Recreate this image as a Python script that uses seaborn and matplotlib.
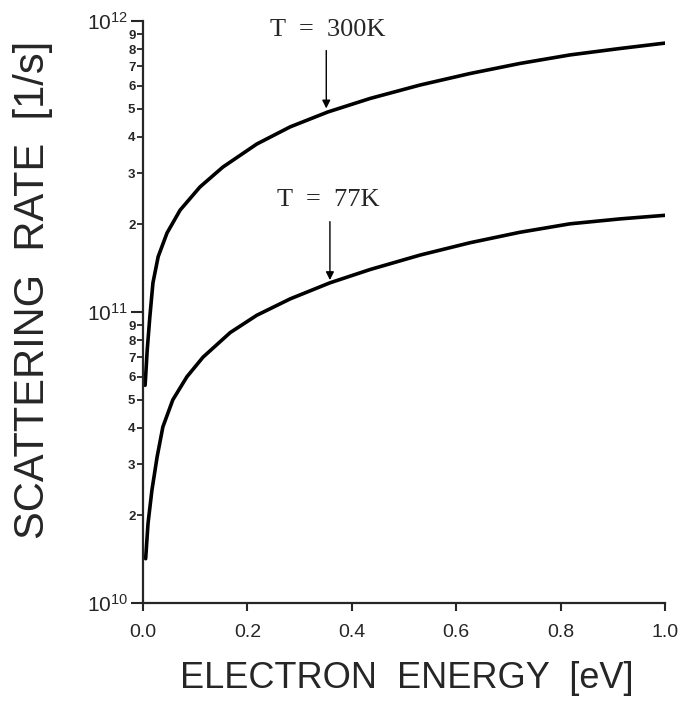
import numpy as np
import pandas as pd
import matplotlib
matplotlib.use("Agg")
import matplotlib.pyplot as plt
import matplotlib.ticker as mticker
import seaborn as sns

# curves: electron energy [eV] vs scattering rate [1/s]
energy_300k = [0.004, 0.008, 0.013, 0.019, 0.029, 0.046, 0.071, 0.109, 0.153, 0.218,
               0.282, 0.354, 0.435, 0.531, 0.626, 0.722, 0.818, 0.914, 1.0]
rate_300k = [5.6e10, 7.4e10, 9.6e10, 1.26e11, 1.55e11, 1.87e11, 2.24e11, 2.69e11, 3.15e11, 3.78e11,
             4.33e11, 4.87e11, 5.42e11, 6.03e11, 6.6e11, 7.15e11, 7.65e11, 8.05e11, 8.4e11]

energy_77k = [0.005, 0.0096, 0.017, 0.027, 0.038, 0.057, 0.084, 0.115, 0.167, 0.218,
              0.282, 0.358, 0.435, 0.531, 0.626, 0.722, 0.818, 0.914, 1.0]
rate_77k = [1.42e10, 1.88e10, 2.44e10, 3.18e10, 4.03e10, 4.99e10, 5.99e10, 7.0e10, 8.5e10, 9.75e10,
            1.11e11, 1.26e11, 1.40e11, 1.57e11, 1.73e11, 1.88e11, 2.01e11, 2.09e11, 2.15e11]

x_ticks = [0.0, 0.2, 0.4, 0.6, 0.8, 1.0]
x_ticklabels = ["0.0", "0.2", "0.4", "0.6", "0.8", "1.0"]

df = pd.concat([
    pd.DataFrame({"energy": energy_300k, "rate": rate_300k, "T": "300K"}),
    pd.DataFrame({"energy": energy_77k, "rate": rate_77k, "T": "77K"}),
])

sns.set_style("ticks")
plt.rcParams['font.family'] = ['Liberation Sans', 'DejaVu Sans']
plt.rcParams['mathtext.default'] = 'regular'

fig = plt.figure(figsize=(6.86, 7.02), dpi=100)
ax = fig.add_axes([0.2085, 0.141, 0.761, 0.829])

sns.lineplot(data=df, x="energy", y="rate", units="T", estimator=None,
             color="black", lw=2.6, ax=ax, legend=False)
for ln in ax.get_lines():
    ln.set_solid_joinstyle("round")
    ln.set_solid_capstyle("round")

ax.set_yscale("log")
ax.set_xlim(0, 1.0)
ax.set_ylim(1e10, 1e12)

ax.set_xticks(x_ticks)
ax.set_xticklabels(x_ticklabels, fontsize=14)

ax.yaxis.set_major_locator(mticker.LogLocator(base=10))
ax.yaxis.set_minor_locator(mticker.LogLocator(base=10, subs=range(2, 10)))
ax.yaxis.set_minor_formatter(mticker.FuncFormatter(
    lambda v, p: str(int(round(v / 10 ** np.floor(np.log10(v) + 1e-9))))))
ax.tick_params(axis="y", which="major", labelsize=15, length=9, width=1.5, pad=2)
ax.tick_params(axis="y", which="minor", labelsize=9.5, length=4.5, width=1.3, pad=1)
for t in ax.yaxis.get_minorticklabels():
    t.set_fontweight("bold")
ax.tick_params(axis="x", which="major", length=6, width=1.5, pad=9)

for s in ["top", "right"]:
    ax.spines[s].set_visible(False)
for s in ["left", "bottom"]:
    ax.spines[s].set_linewidth(1.6)

ax.set_xlabel("ELECTRON  ENERGY  [eV]", fontsize=26)
ax.set_ylabel("SCATTERING  RATE  [1/s]", fontsize=30)
ax.xaxis.set_label_coords(0.506, -0.10)
ax.yaxis.set_label_coords(-0.172, 0.538)

serif = ['Liberation Serif', 'DejaVu Serif']
ax.text(0.354, 9.3e11, "T  =  300K", family=serif, fontsize=19, ha="center", va="center")
ax.annotate("", xy=(0.351, 4.9e11), xytext=(0.351, 8.1e11),
            arrowprops=dict(arrowstyle="-|>", color="black", lw=1.0, mutation_scale=12))
ax.text(0.354, 2.43e11, "T  =  77K", family=serif, fontsize=19, ha="center", va="center")
ax.annotate("", xy=(0.358, 1.26e11), xytext=(0.358, 2.09e11),
            arrowprops=dict(arrowstyle="-|>", color="black", lw=1.0, mutation_scale=12))

fig.savefig("out.png", dpi=100)
